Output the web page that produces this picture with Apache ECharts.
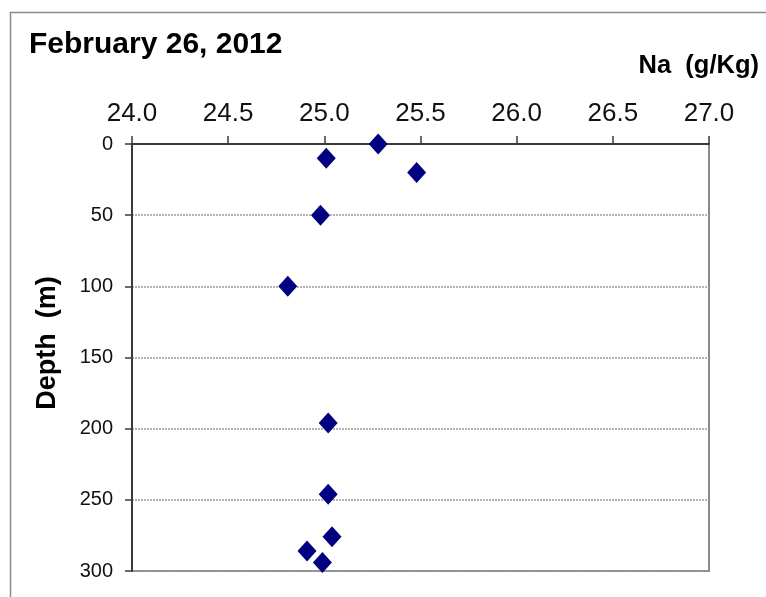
<!DOCTYPE html>
<html>
<head>
<meta charset="utf-8">
<script src="https://cdn.jsdelivr.net/npm/echarts@6/dist/echarts.min.js"></script>
<style>
html,body{margin:0;padding:0;background:#fff;}
#chart{width:766px;height:597px;}
</style>
</head>
<body>
<div id="chart"></div>
<script>
var titleText = "February 26, 2012";
var xAxisName = "Na  (g/Kg)";
var yAxisName = "Depth  (m)";
var naValues = [25.28, 25.01, 25.48, 24.98, 24.81, 25.02, 25.02, 25.04, 24.91, 24.99];
var depthValues = [0, 10, 20, 50, 100, 196, 246, 276, 286, 294];

var FONT = "'Liberation Sans', Arial, Helvetica, sans-serif";
var chart = echarts.init(document.getElementById('chart'), null, {renderer: 'canvas'});
var points = naValues.map(function (v, i) { return [v, depthValues[i]]; });

chart.setOption({
  backgroundColor: '#ffffff',
  animation: false,
  grid: {
    left: 132, right: 57, top: 144, bottom: 26,
    show: true, borderColor: '#8a8a8a', borderWidth: 2, backgroundColor: 'transparent'
  },
  xAxis: {
    type: 'value', position: 'top', min: 24, max: 27, interval: 0.5,
    axisLine: {show: true, onZero: false, lineStyle: {color: '#3a3a3a', width: 2}},
    axisTick: {show: true, inside: false, length: 8, lineStyle: {color: '#3a3a3a', width: 1.5}},
    axisLabel: {
      color: '#111', fontSize: 26, fontFamily: FONT, margin: 17,
      formatter: function (v) { return v.toFixed(1); }
    },
    splitLine: {show: false}
  },
  yAxis: {
    type: 'value', inverse: true, min: 0, max: 300, interval: 50,
    axisLine: {show: true, onZero: false, lineStyle: {color: '#3a3a3a', width: 2}},
    axisTick: {show: true, inside: false, length: 7, lineStyle: {color: '#3a3a3a', width: 1.5}},
    axisLabel: {color: '#111', fontSize: 20, fontFamily: FONT, margin: 19},
    splitLine: {show: true, lineStyle: {color: '#9a9a9a', width: 1.5, type: [2, 1]}}
  },
  series: [{
    type: 'scatter',
    data: points,
    symbol: 'diamond',
    symbolSize: [19, 21],
    itemStyle: {color: '#000080', opacity: 1}
  }],
  graphic: [
    {type: 'rect', left: 8, top: 10, shape: {width: 820, height: 700},
     style: {fill: 'none', stroke: '#8a8a8a', lineWidth: 1.5}, silent: true},
    {type: 'text', left: 29, top: 30,
     style: {text: titleText, font: 'bold 30px ' + FONT, fill: '#000'}},
    {type: 'text', right: 7, top: 53,
     style: {text: xAxisName, font: 'bold 25.5px ' + FONT, fill: '#000'}},
    {type: 'text', x: 48, y: 343, rotation: Math.PI / 2,
     style: {text: yAxisName, font: 'bold 27px ' + FONT, fill: '#000', align: 'center', verticalAlign: 'middle'}}
  ]
});
</script>
</body>
</html>
